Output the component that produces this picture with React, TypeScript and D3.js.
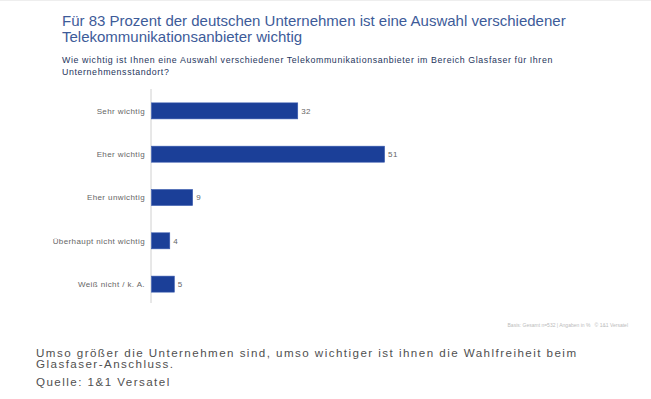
import { useMemo } from "react";
import * as d3 from "d3";

const WIDTH = 651;
const HEIGHT = 399;

const categories = [
  "Sehr wichtig",
  "Eher wichtig",
  "Eher unwichtig",
  "Überhaupt nicht wichtig",
  "Weiß nicht / k. A.",
];
const values = [32, 51, 9, 4, 5];

const titleLines = [
  "Für 83 Prozent der deutschen Unternehmen ist eine Auswahl verschiedener",
  "Telekommunikationsanbieter wichtig",
];
const subtitleLines = [
  "Wie wichtig ist Ihnen eine Auswahl verschiedener Telekommunikationsanbieter im Bereich Glasfaser für Ihren",
  "Unternehmensstandort?",
];
const captionLines = [
  "Umso größer die Unternehmen sind, umso wichtiger ist ihnen die Wahlfreiheit beim",
  "Glasfaser-Anschluss.",
];
const sourceText = "Quelle: 1&1 Versatel";
const noteText = "Basis: Gesamt n=532 | Angaben in %   © 1&1 Versatel";

const FONT = "Liberation Sans, Arial, sans-serif";
const PLOT = { left: 151, top: 89, bottom: 306 };
const UNIT = 4.57;

export default function App() {
  const y = useMemo(
    () =>
      d3
        .scaleBand()
        .domain(categories)
        .range([PLOT.top, PLOT.bottom])
        .paddingInner(0.63)
        .paddingOuter(0.32),
    [],
  );

  const x = useMemo(
    () =>
      d3
        .scaleLinear()
        .domain([0, 51])
        .range([PLOT.left, PLOT.left + 51 * UNIT]),
    [],
  );

  return (
    <div style={{ position: "absolute", left: 0, top: 0, width: WIDTH, height: HEIGHT, background: "#fff" }}>
      <svg width={WIDTH} height={HEIGHT} viewBox={`0 0 ${WIDTH} ${HEIGHT}`} style={{ display: "block" }}>
        <rect x={0} y={0} width={WIDTH} height={HEIGHT} fill="#fff" />
        <line x1={0} x2={WIDTH} y1={0.5} y2={0.5} stroke="#eee" />

        <g fontFamily={FONT} fill="#3d5b99" fontSize={15}>
          {titleLines.map((t, i) => (
            <text key={t} x={62} y={26 + i * 16.3}>
              {t}
            </text>
          ))}
        </g>
        <g fontFamily={FONT} fill="#25355c" fontSize={8.8} letterSpacing={0.62}>
          {subtitleLines.map((t, i) => (
            <text key={t} x={62} y={62.5 + i * 12.5}>
              {t}
            </text>
          ))}
        </g>

        <line x1={PLOT.left} x2={PLOT.left} y1={PLOT.top} y2={PLOT.bottom - 3} stroke="#d0d0d0" strokeWidth={1} />

        {categories.map((c, i) => {
          const yc = (y(c) ?? 0) + y.bandwidth() / 2;
          return (
            <g key={c} fontFamily={FONT} fontSize={8} fill="#666" letterSpacing={0.4}>
              <rect
                x={x(0) + 0.5}
                y={y(c)}
                width={x(values[i]) - x(0)}
                height={y.bandwidth()}
                fill="#1b3f98"
                stroke="#3a5bb0"
                strokeWidth={0.6}
              />
              <text x={PLOT.left - 6} y={yc} dy="0.35em" textAnchor="end">
                {c}
              </text>
              <text x={x(values[i]) + 4} y={yc} dy="0.35em">
                {values[i]}
              </text>
            </g>
          );
        })}

        <text
          x={628}
          y={327}
          textAnchor="end"
          fontFamily={FONT}
          fontSize={5}
          fill="#bbb"
          style={{ whiteSpace: "pre" }}
        >
          {noteText}
        </text>

        <g fontFamily={FONT} fontSize={11.6} fill="#505050" letterSpacing={1.45}>
          {captionLines.map((t, i) => (
            <text key={t} x={36} y={356.7 + i * 11.6}>
              {t}
            </text>
          ))}
          <text x={36} y={385.7}>
            {sourceText}
          </text>
        </g>
      </svg>
    </div>
  );
}
